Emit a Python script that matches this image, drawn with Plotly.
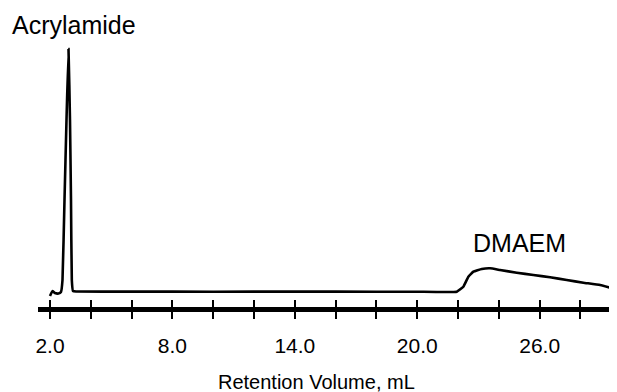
import plotly.graph_objects as go

# Chromatogram trace (retention volume in mL, detector response in arbitrary units)
volume = [2.000, 2.123, 2.245, 2.417, 2.539, 2.613, 2.711, 2.809, 2.907, 2.980, 3.029, 3.069, 3.127, 3.275,
          6.0, 10.0, 14.0, 18.0, 20.0, 21.936,
          22.260, 22.505, 22.750, 23.162, 23.569, 24.059, 24.877, 25.691, 26.510, 27.328, 28.142, 28.961, 29.534, 29.794]
response = [-4.3, 0.7, -1.3, -1.8, -0.3, 11.7, 91.7, 171.7, 242.7, 171.7, 91.7, 11.7, 0.7, 0.2,
            0.1, 0.0, 0.1, 0.0, 0.0, 0.0,
            5.0, 15.0, 20.0, 22.7, 23.4, 21.7, 19.0, 16.7, 14.4, 11.7, 9.0, 6.7, 3.4, 1.7]

tick_values = [2, 4, 6, 8, 10, 12, 14, 16, 18, 20, 22, 24, 26, 28]
tick_labels = ["2.0", "", "", "8.0", "", "", "14.0", "", "", "20.0", "", "", "26.0", ""]

peak_names = ["Acrylamide", "DMAEM"]
x_title = "Retention Volume, mL"

FONT = "Liberation Sans, Arial, Helvetica, sans-serif"
x_range = [1.412, 29.79]
y_range = [-15.3, 251.7]

# the page body keeps an 8 px default margin, so the figure is 8 px smaller
W, H = 609, 384
PLOT_BOTTOM, PLOT_H = 307, 267  # page pixels


def py(page_y):
    return (PLOT_BOTTOM - page_y) / PLOT_H


fig = go.Figure()
fig.add_trace(go.Scatter(x=volume, y=response, mode="lines",
                         line=dict(color="black", width=2.6, shape="spline", smoothing=0.3),
                         hoverinfo="skip", showlegend=False))
# invisible trace on overlay axis so its inward ticks are drawn
fig.add_trace(go.Scatter(x=[volume[0]], y=[response[0]], xaxis="x2", mode="markers",
                         marker=dict(opacity=0), showlegend=False, hoverinfo="skip"))

fig.update_layout(
    width=W, height=H,
    margin=dict(l=30, r=0, t=32, b=85),
    paper_bgcolor="white", plot_bgcolor="white",
    font=dict(family=FONT, color="black"),
    xaxis=dict(range=x_range, tickvals=tick_values, ticktext=tick_labels,
               ticks="outside", ticklen=7, tickwidth=1.6, tickcolor="black",
               showline=True, linewidth=4.5, linecolor="black",
               showgrid=False, zeroline=False, automargin=False,
               tickfont=dict(size=21, family=FONT), ticklabelstandoff=9),
    xaxis2=dict(range=x_range, overlaying="x", anchor="y", side="bottom",
                tickvals=tick_values, showticklabels=False, automargin=False,
                ticks="inside", ticklen=7, tickwidth=1.6, tickcolor="black",
                showline=False, showgrid=False, zeroline=False),
    yaxis=dict(range=y_range, visible=False, showgrid=False, zeroline=False, automargin=False),
    annotations=[
        dict(text=peak_names[0], xref="paper", yref="paper", x=(10 - 38) / 579, y=py(25),
             xanchor="left", yanchor="middle", showarrow=False, font=dict(size=25, family=FONT)),
        dict(text=peak_names[1], x=25.0, y=291.7 - 243, xref="x", yref="y",
             xanchor="center", yanchor="middle", showarrow=False, font=dict(size=25, family=FONT)),
        dict(text=x_title, xref="paper", yref="paper", x=(316 - 38) / 579, y=py(382),
             xanchor="center", yanchor="middle", showarrow=False, font=dict(size=20, family=FONT)),
    ],
)

fig.write_html("out.html")
